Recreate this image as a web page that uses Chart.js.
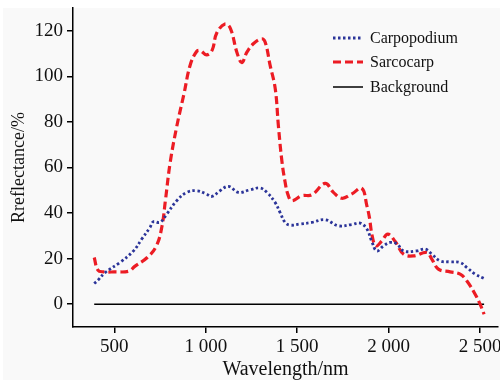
<!DOCTYPE html>
<html>
<head>
<meta charset="utf-8">
<script src="https://cdn.jsdelivr.net/npm/chart.js@4"></script>
<style>
html,body{margin:0;padding:0;background:#ffffff;}
#wrap{width:500px;height:380px;position:relative;}
</style>
</head>
<body>
<div id="wrap"><canvas id="c" width="500" height="380"></canvas></div>
<script>
// Wavelength (nm) and reflectance (%)
const carpoWavelength = [390,410,450,530,605,650,695,713,750,787,841,896,951,1000,1033,1078,1124,1178,1242,1297,1334,1379,1406,1434,1461,1516,1580,1653,1725,1800,1844,1881,1908,1935,1972,2008,2045,2081,2154,2200,2236,2282,2336,2391,2428,2473,2522];
const carpoValues     = [9.1,10.5,13.9,18.3,23.4,28.6,33.7,36.2,35.9,39.6,45.4,49.1,49.8,48.5,47.3,49.8,51.7,49.1,50.2,51.0,49.1,44.7,40.3,35.9,34.7,35.2,35.9,37.1,34.4,35.0,35.6,33.0,27.5,23.4,25.6,27.1,26.5,23.4,23.4,24.2,22.0,19.0,18.6,18.3,16.1,13.2,11.3];

const sarcoWavelength = [390,410,440,500,580,610,680,730,760,780,805,840,880,915,950,970,1005,1035,1060,1105,1135,1170,1197,1225,1260,1305,1325,1352,1380,1397,1416,1434,1450,1470,1525,1580,1653,1698,1744,1799,1853,1881,1895,1910,1930,1963,1995,2036,2081,2136,2209,2236,2272,2336,2391,2428,2473,2500,2522];
const sarcoValues     = [20.5,15.0,14.2,14.2,14.5,16.5,20.5,25.6,34.0,46.0,62.0,77.5,92.0,105.0,110.9,111.3,109.4,111.5,119.0,123.0,121.0,110.6,106.0,110.6,114.3,116.5,115.0,104.8,94.5,78.4,63.0,53.5,48.0,45.4,47.6,48.0,53.0,49.1,46.5,48.4,50.9,43.2,38.0,30.0,25.6,27.8,30.8,27.5,22.0,21.2,22.7,19.8,15.4,14.2,13.2,10.2,4.4,0.0,-4.4];

const backgroundWavelength = [390,2522];
const backgroundValues     = [0,0];

const xTicks = [500,1000,1500,2000,2500];
const yTicks = [0,20,40,60,80,100,120];

const seriesNames = ['Carpopodium','Sarcocarp','Background'];

function pts(xs, ys){ return xs.map((x,i)=>({x:x,y:ys[i]})); }

const FONT = '"Liberation Serif", "Times New Roman", serif';

const bgPlugin = {
  id:'bg',
  beforeDraw(chart){
    const ctx = chart.ctx;
    ctx.save();
    ctx.fillStyle = '#ffffff';
    ctx.fillRect(0,0,chart.width,chart.height);
    ctx.fillStyle = '#f9f9f9';
    ctx.fillRect(3,8,chart.width-3,chart.height-8);
    ctx.restore();
  }
};

const legendPlugin = {
  id:'customLegend',
  afterDraw(chart){
    const ctx = chart.ctx;
    ctx.save();
    const x0 = 333, x1 = 363, tx = 370;
    const ys = [38, 62, 87];
    chart.data.datasets.forEach((ds,i)=>{
      ctx.beginPath();
      ctx.strokeStyle = ds.borderColor;
      ctx.lineWidth = ds.borderWidth;
      ctx.setLineDash(ds.borderDash || []);
      ctx.moveTo(x0, ys[i]);
      ctx.lineTo(x1, ys[i]);
      ctx.stroke();
      ctx.setLineDash([]);
      ctx.fillStyle = '#111111';
      ctx.font = '16px ' + FONT;
      ctx.textBaseline = 'middle';
      ctx.textAlign = 'left';
      ctx.fillText(ds.label, tx, ys[i]+1);
    });
    ctx.restore();
  }
};

new Chart(document.getElementById('c'), {
  type:'line',
  data:{
    datasets:[
      {label:seriesNames[0], data:pts(carpoWavelength,carpoValues), borderColor:'#2b3499', borderWidth:2.8, borderDash:[2.5,2.5], pointRadius:0, tension:0.4, fill:false},
      {label:seriesNames[1], data:pts(sarcoWavelength,sarcoValues), borderColor:'#ec1c24', borderWidth:3.2, borderDash:[8,4], pointRadius:0, tension:0.4, fill:false},
      {label:seriesNames[2], data:pts(backgroundWavelength,backgroundValues), borderColor:'#000000', borderWidth:1.5, pointRadius:0, tension:0, fill:false}
    ]
  },
  options:{
    responsive:false,
    animation:false,
    layout:{padding:{top:8,right:2,left:0,bottom:0}},
    plugins:{legend:{display:false}, tooltip:{enabled:false}},
    scales:{
      x:{
        type:'linear', min:274, max:2598,
        afterBuildTicks(s){ s.ticks = xTicks.map(v=>({value:v})); },
        afterFit(s){ s.height = 53; s.paddingLeft = 0; s.paddingRight = 0; },
        ticks:{
          color:'#111111', font:{family:FONT,size:19}, padding:3, maxRotation:0,
          callback(v){ return v >= 1000 ? String(Math.floor(v/1000)) + ' ' + String(v%1000).padStart(3,'0') : String(v); }
        },
        grid:{display:true, drawOnChartArea:false, drawTicks:true, tickLength:6, color:'#000000', lineWidth:1.5},
        border:{display:true, color:'#000000', width:1.5},
        title:{display:true, text:'Wavelength/nm', color:'#111111', font:{family:FONT,size:20}, padding:{top:0,bottom:-2}}
      },
      y:{
        type:'linear', min:-10, max:130,
        afterBuildTicks(s){ s.ticks = yTicks.map(v=>({value:v})); },
        afterFit(s){ s.width = 73; s.paddingTop = 0; s.paddingBottom = 0; },
        ticks:{color:'#111111', font:{family:FONT,size:19}, padding:4},
        grid:{display:true, drawOnChartArea:false, drawTicks:true, tickLength:6, color:'#000000', lineWidth:1.5},
        border:{display:true, color:'#000000', width:1.5},
        title:{display:true, text:'Rreflectance/%', color:'#111111', font:{family:FONT,size:18}, padding:{top:8,bottom:0}}
      }
    }
  },
  plugins:[bgPlugin, legendPlugin]
});
</script>
</body>
</html>
